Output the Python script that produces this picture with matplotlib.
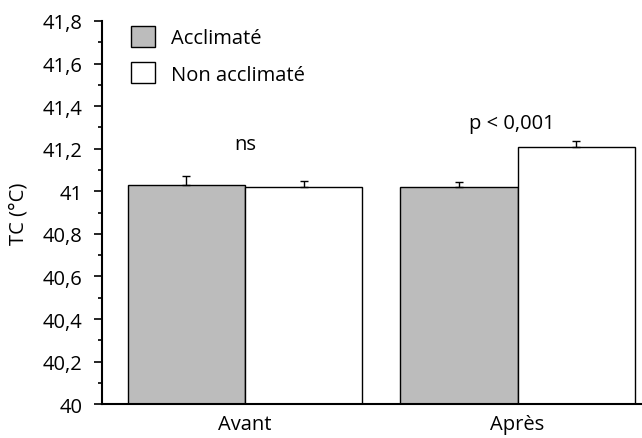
import numpy as np
import matplotlib
matplotlib.use('Agg')
import matplotlib.pyplot as plt
from matplotlib.ticker import MultipleLocator, FuncFormatter

plt.rcParams['font.family'] = ['Open Sans', 'DejaVu Sans']

periods = ['Avant', 'Après']
groups = ['Acclimaté', 'Non acclimaté']
acclimated = [41.03, 41.02]
acclimated_err = [0.04, 0.025]
non_acclimated = [41.02, 41.21]
non_acclimated_err = [0.027, 0.027]
annotations = ['ns', 'p < 0,001']

fs = 14.5

fig = plt.figure(figsize=(6.42, 4.39), dpi=100)
ax = fig.add_axes([0.159, 0.077, 0.84, 0.873])

x = np.arange(len(periods))
w = 0.43
base = 40

ax.bar(x - w / 2, np.array(acclimated) - base, w, bottom=base,
       color='#bcbcbc', edgecolor='black', linewidth=1.0, label=groups[0], zorder=2)
ax.bar(x + w / 2, np.array(non_acclimated) - base, w, bottom=base,
       color='white', edgecolor='black', linewidth=1.0, label=groups[1], zorder=2)

# upward-only error bars
ax.errorbar(x - w / 2, acclimated, yerr=[np.zeros(2), acclimated_err], fmt='none',
            ecolor='black', elinewidth=1.0, capsize=3, capthick=1.0, zorder=3)
ax.errorbar(x + w / 2, non_acclimated, yerr=[np.zeros(2), non_acclimated_err], fmt='none',
            ecolor='black', elinewidth=1.0, capsize=3, capthick=1.0, zorder=3)

ax.text(0, 41.22, annotations[0], ha='center', va='center', fontsize=fs)
ax.text(0.978, 41.32, annotations[1], ha='center', va='center', fontsize=fs)

ax.set_xlim(-0.524, 1.454)
ax.set_ylim(40, 41.8)
ax.set_xticks(x)
ax.set_xticklabels(periods, fontsize=fs)
ax.tick_params(axis='x', length=0, pad=7)

ax.yaxis.set_major_locator(MultipleLocator(0.2))
ax.yaxis.set_minor_locator(MultipleLocator(0.1))
ax.yaxis.set_major_formatter(FuncFormatter(lambda v, p: f'{v:.1f}'.rstrip('0').rstrip('.').replace('.', ',')))
ax.tick_params(axis='y', which='major', length=6, width=1.2, labelsize=fs, pad=8)
ax.tick_params(axis='y', which='minor', length=3, width=1.2)
ax.set_ylabel('TC (°C)', fontsize=fs, labelpad=10)

for s in ['top', 'right']:
    ax.spines[s].set_visible(False)
ax.spines['left'].set_linewidth(1.5)
ax.spines['bottom'].set_linewidth(1.5)

ax.legend(loc='upper left', bbox_to_anchor=(0.02, 1.035), frameon=False, fontsize=fs,
          handlelength=1.2, handleheight=1.25, labelspacing=0.7, handletextpad=0.8)

fig.savefig('out.png', dpi=100)
